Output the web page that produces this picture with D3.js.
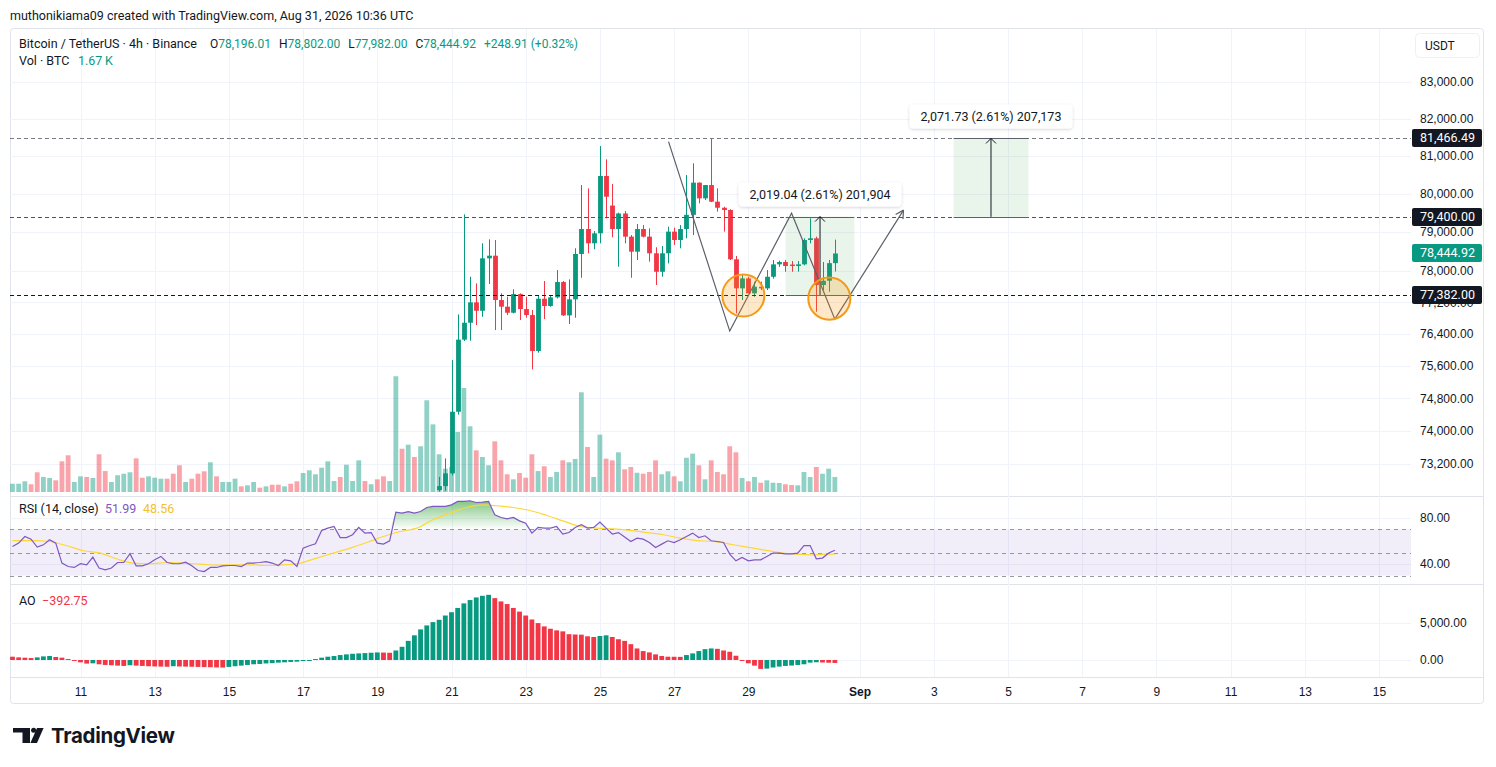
<!DOCTYPE html>
<html>
<head>
<meta charset="utf-8">
<title>Bitcoin / TetherUS 4h</title>
<script src="https://cdn.jsdelivr.net/npm/d3@7"></script>
<style>
  body { margin: 0; background: #fff; }
  svg { display: block; font-family: Roboto, "Noto Sans", sans-serif; }
  .axis text { fill: #131722; font-size: 12px; }
</style>
</head>
<body>
<svg id="chart" width="1496" height="767"></svg>
<script>
'use strict';

/* bars are 4h, first one is Aug 9 04:00 UTC */
var firstBar = Date.UTC(2026, 7, 9, 4);
var barMs = 4 * 3600 * 1000;

/* volume in thousand BTC, every bar */
var volumes = [0.92, 0.92, 1.19, 0.86, 2.19, 1.67, 1.56, 1.30, 3.41, 4.08,
    1.11, 1.74, 1.67, 1.56, 4.19, 2.33, 1.11, 1.86, 2.03, 2.19,
    3.74, 1.59, 1.74, 1.59, 1.48, 1.48, 2.03, 2.97, 1.11, 1.48,
    2.03, 2.30, 3.30, 1.74, 1.11, 1.11, 1.48, 0.63, 0.74, 1.11,
    0.48, 0.63, 0.81, 0.81, 0.63, 0.92, 1.19, 2.11, 2.41, 1.97,
    2.70, 3.41, 1.22, 1.67, 3.03, 1.22, 3.52, 1.22, 0.86, 1.41,
    1.74, 1.22, 12.86, 4.81, 5.26, 3.89, 5.08, 10.19, 7.52, 4.19,
    2.59, 2.78, 6.67, 11.56, 7.30, 4.63, 3.89, 2.97, 5.63, 3.52,
    1.97, 1.41, 2.11, 1.59, 4.19, 2.33, 2.86, 1.67, 2.22, 3.52,
    3.30, 3.67, 11.08, 5.00, 1.67, 6.37, 3.70, 3.52, 4.41, 2.52,
    2.78, 2.14, 2.03, 2.22, 3.52, 1.97, 2.30, 1.74, 1.19, 3.81,
    4.26, 2.97, 1.41, 3.52, 2.22, 1.97, 5.08, 4.41, 1.56, 1.19,
    1.67, 1.03, 1.30, 1.03, 1.00, 0.86, 0.78, 0.74, 2.22, 1.67,
    2.78, 2.03, 2.59, 1.67];

/* up (1) / down (0) for the bars whose candles sit below the visible price range */
var earlyUp = [1, 1, 1, 0, 0, 1, 1, 0, 0, 0,
    1, 1, 0, 1, 0, 0, 1, 1, 1, 1,
    0, 0, 1, 1, 1, 0, 0, 0, 1, 0,
    0, 0, 1, 0, 1, 1, 1, 0, 1, 1,
    0, 1, 0, 0, 1, 0, 0, 1, 1, 1,
    1, 1, 1, 0, 1, 1, 1, 0, 1, 0,
    0, 1, 1, 0, 1, 0, 1, 1, 1];

/* OHLC from bar 69 on */
var candleStart = 69;
var opens = [72578, 72673, 72977, 74470, 76255, 76680, 77195, 76982, 78320, 78388,
    77254, 77085, 76932, 77405, 77025, 76874, 75970, 77287, 77102, 77322,
    77712, 76866, 77272, 78432, 79078, 78708, 78966, 80468, 79690, 79078,
    79483, 78880, 78491, 79078, 78880, 78450, 77975, 78450, 79010, 78793,
    79078, 79447, 80292, 79879, 80229, 79791, 79633, 79574, 78295, 77551,
    77805, 77424, 77593, 77551, 77847, 78165, 78225, 78160, 78122, 78165,
    78793, 78837, 77636, 77745, 78196.01];
var highs = [72895, 73338, 75746, 76890, 79460, 77847, 77678, 78708, 78811, 78793,
    77424, 77339, 77526, 77424, 77339, 77000, 77375, 77738, 77375, 78019,
    77740, 77781, 78579, 80229, 80142, 79026, 81263, 80910, 80256, 79504,
    79548, 78922, 79208, 79182, 79095, 78605, 78638, 79139, 79113, 79182,
    80495, 80803, 80300, 80229, 81466.49, 80142, 79660, 79592, 78380, 77891,
    77847, 77720, 77720, 78019, 78277, 78260, 78277, 78250, 78250, 78837,
    79356, 78880, 78225, 78277, 78802];
var lows = [72540, 72560, 72930, 74400, 76220, 76228, 76622, 76830, 77660, 76496,
    76496, 76874, 76916, 76748, 76806, 75515, 75928, 76773, 77085, 77297,
    76849, 76647, 76806, 77822, 78450, 78553, 78708, 79356, 78863, 78104,
    78708, 77822, 78277, 78860, 78233, 77636, 77847, 78190, 78664, 78579,
    78837, 78922, 79748, 79835, 79780, 79530, 79010, 78277, 76916, 77254,
    77424, 77339, 77508, 77508, 77800, 78100, 77975, 77975, 77975, 78140,
    78708, 76957, 77508, 77466, 77982];
var closes = [72673, 72977, 74470, 76255, 76680, 77195, 76982, 78320, 78388, 77254,
    77085, 76932, 77405, 77025, 76874, 75970, 77287, 77102, 77322, 77712,
    76866, 77272, 78432, 79078, 78708, 78966, 80468, 79922, 79078, 79483,
    78880, 78491, 79078, 78880, 78450, 77975, 78450, 79010, 78793, 79078,
    79447, 80292, 79879, 80229, 79791, 79633, 79574, 78295, 77551, 77805,
    77424, 77593, 77551, 77847, 78165, 78225, 78122, 78122, 78165, 78793,
    78837, 77636, 77745, 78196.01, 78444.92];

/* RSI(14) every bar, and its moving average read at a few bars */
var rsiValues = [55.2, 58.1, 63.8, 61.5, 54.7, 56.6, 61.0, 58.1, 40.9, 37.9,
    37.1, 40.3, 39.4, 46.0, 36.6, 35.1, 36.6, 41.4, 41.4, 48.9,
    38.5, 38.5, 40.3, 43.7, 46.6, 41.4, 40.3, 40.3, 41.7, 38.5,
    34.5, 33.6, 37.1, 37.1, 38.5, 38.8, 38.8, 37.9, 40.9, 40.9,
    41.4, 42.2, 40.9, 38.8, 43.7, 42.8, 37.9, 53.8, 55.8, 57.5,
    69.0, 71.0, 72.4, 62.9, 62.9, 65.3, 71.6, 66.7, 67.2, 58.1,
    57.2, 60.1, 84.8, 84.0, 85.3, 84.0, 85.3, 88.8, 89.7, 89.7,
    89.7, 91.1, 94.0, 94.0, 94.6, 93.1, 93.4, 94.0, 82.5, 80.2,
    79.0, 80.2, 77.3, 75.3, 66.7, 71.6, 71.0, 71.0, 72.4, 65.9,
    67.2, 71.6, 73.9, 71.0, 71.6, 76.2, 71.0, 65.9, 67.2, 63.3,
    59.5, 62.4, 61.5, 58.6, 54.3, 57.2, 60.1, 58.6, 61.0, 63.8,
    66.7, 62.9, 64.4, 60.1, 59.5, 58.6, 48.6, 42.8, 45.7, 42.8,
    43.7, 43.7, 46.6, 49.5, 49.5, 48.9, 48.9, 49.5, 56.0, 56.0,
    44.6, 45.2, 49.5, 51.99];
var rsiMaBars = [0, 3.4, 6, 8.8, 11.5, 14.2, 16.8, 19.5, 22.2, 25, 27.6, 30.3, 33, 35.7, 38.4, 41, 43.8, 46,
    49.2, 51.9, 54.6, 57.3, 60, 62.7, 65.4, 68, 70.8, 73.4, 76, 78.3, 81, 83.7, 86.4, 89, 91.8, 94.5,
    97.2, 99.9, 102.6, 105.3, 108, 110.7, 113.4, 116, 118.8, 121.4, 124, 126.8, 129.5, 132.2, 133];
var rsiMaValues = [60.3, 60.3, 59.5, 55.8, 51.5, 49.5, 44.6, 40.9, 40.3, 41.4, 40.9, 40.0, 39.1, 39.4, 39.4, 38.8, 39.4, 40.3,
    45.2, 49.5, 53.8, 58.6, 63.8, 68.1, 71.0, 78.2, 84.0, 88.8, 91.0, 90.3, 88.8, 86.2, 81.9, 77.3, 72.4, 71.0,
    70.4, 69.0, 67.2, 65.3, 62.4, 60.3, 59.5, 57.2, 54.7, 52.3, 50.0, 48.6, 48.0, 48.6, 48.56];

/* Awesome Oscillator every bar */
var aoValues = [440, 350, 310, 260, 350, 480, 530, 400, 310, 130,
    -130, -310, -480, -440, -570, -660, -700, -750, -790, -700,
    -750, -790, -830, -860, -880, -900, -830, -860, -880, -900,
    -920, -945, -965, -990, -1010, -920, -830, -750, -660, -570,
    -530, -460, -420, -350, -310, -260, -220, -130, -45, 130,
    310, 440, 530, 660, 750, 830, 880, 920, 970, 1010,
    990, 965, 1270, 1760, 2550, 3290, 4080, 4610, 5050, 5360,
    5930, 6370, 6940, 7550, 7990, 8340, 8560, 8690, 8250, 7810,
    7460, 6940, 6450, 5930, 5400, 4920, 4480, 4170, 3950, 3820,
    3440, 3400, 3380, 3160, 3070, 3200, 3290, 3070, 2770, 2550,
    2110, 1540, 1190, 1010, 750, 530, 440, 430, 420, 660,
    880, 1190, 1450, 1540, 1490, 1270, 1100, 570, -90, -440,
    -750, -1190, -1150, -1000, -880, -790, -740, -660, -570, -350,
    -300, -330, -360, -392.75];

var priceTicks = [83000, 82000, 81000, 80000, 79000, 78000, 77200, 76400, 75600, 74800, 74000, 73200];
var rsiTicks = [80, 40];
var rsiLevels = [70, 50, 30];
var aoTicks = [5000, 0];
var dayTicks = ['2026-08-11', '2026-08-13', '2026-08-15', '2026-08-17', '2026-08-19', '2026-08-21',
    '2026-08-23', '2026-08-25', '2026-08-27', '2026-08-29', '2026-09-01', '2026-09-03', '2026-09-05',
    '2026-09-07', '2026-09-09', '2026-09-11', '2026-09-13', '2026-09-15'];

/* drawings: bars are (fractional) bar numbers, prices in USDT */
var levelPrices = [81466.49, 79400, 77382];
var zigBars = [106.1, 116, 126, 133, 144.1];
var zigPrices = [81380, 76470, 79490, 76770, 79570];
var circleBars = [118.2, 132.1];
var circlePrices = [77370, 77290];
var circleEdgeBars = [121.6, 135.5];
var measureStartBars = [125.05, 152.2];
var measureEndBars = [136.15, 164.3];
var measureLows = [77382, 79394.76];
var measureHighs = [79401.04, 81466.49];

var UP = '#089981', DOWN = '#f23645', TEXT = '#131722';
var plotLeft = 10, plotRight = 1411, frameRight = 1483;
var pricePane = {top: 29, bottom: 496};
var rsiPane = {top: 497, bottom: 584};
var aoPane = {top: 585, bottom: 677};

function barTime(i) {
    return new Date(firstBar + i * barMs);
}

var x = d3.scaleUtc()
    .domain([new Date(Date.UTC(2026, 7, 11)), new Date(Date.UTC(2026, 8, 15))])
    .range([80.5, 1379]);
var bx = function(i) { return x(barTime(i)); };
var barW = (bx(1) - bx(0)) * 0.78;

var yPrice = d3.scaleLog().domain([74000, 83000]).range([431, 81.7]);
var yVol = d3.scaleLinear().domain([0, 13]).range([492, 375]);
var yRsi = d3.scaleLinear().domain([30, 70]).range([575.7, 529.3]);
var yAo = d3.scaleLinear().domain([0, 5000]).range([660, 622.5]);

var candles = opens.map(function(o, j) {
    return {i: candleStart + j, o: o, h: highs[j], l: lows[j], c: closes[j]};
});
function isUp(i) {
    if (i < candleStart) return earlyUp[i] === 1;
    return closes[i - candleStart] >= opens[i - candleStart];
}

var svg = d3.select('#chart');
var defs = svg.append('defs');

function addClip(id, top, bottom) {
    defs.append('clipPath').attr('id', id).append('rect')
        .attr('x', plotLeft).attr('y', top)
        .attr('width', plotRight - plotLeft).attr('height', bottom - top);
}
addClip('clipPrice', pricePane.top, pricePane.bottom);
addClip('clipRsi', rsiPane.top, rsiPane.bottom);
addClip('clipAo', aoPane.top, aoPane.bottom);

var grad = defs.append('linearGradient')
    .attr('id', 'obFill')
    .attr('gradientUnits', 'userSpaceOnUse')
    .attr('x1', 0).attr('x2', 0)
    .attr('y1', yRsi(100)).attr('y2', yRsi(70));
grad.append('stop').attr('offset', '0%').attr('stop-color', '#4caf50').attr('stop-opacity', 0.85);
grad.append('stop').attr('offset', '100%').attr('stop-color', '#4caf50').attr('stop-opacity', 0);

var shadow = defs.append('filter').attr('id', 'shadow')
    .attr('x', '-20%').attr('y', '-50%').attr('width', '140%').attr('height', '200%');
shadow.append('feDropShadow').attr('dx', 0).attr('dy', 1).attr('stdDeviation', 1.6)
    .attr('flood-color', '#000').attr('flood-opacity', 0.18);

svg.append('rect').attr('width', 1496).attr('height', 767).attr('fill', '#fff');

/* frame and pane borders */
svg.append('rect')
    .attr('x', 10.5).attr('y', 28.5).attr('width', frameRight - 10).attr('height', 675)
    .attr('rx', 3).attr('fill', 'none').attr('stroke', '#e0e3eb');
svg.selectAll('line.sep')
    .data([pricePane.bottom, rsiPane.bottom, aoPane.bottom])
    .enter()
    .append('line')
    .attr('x1', 10).attr('x2', frameRight)
    .attr('y1', function(d) { return d + 0.5; })
    .attr('y2', function(d) { return d + 0.5; })
    .attr('stroke', '#e0e3eb');

/* grid */
var grid = svg.append('g').attr('stroke', '#f0f3fa');
grid.selectAll('line.v')
    .data(dayTicks)
    .enter()
    .append('line')
    .attr('x1', function(d) { return Math.round(x(new Date(d))) + 0.5; })
    .attr('x2', function(d) { return Math.round(x(new Date(d))) + 0.5; })
    .attr('y1', pricePane.top)
    .attr('y2', aoPane.bottom);
function hGrid(ticks, scale) {
    grid.append('g').selectAll('line')
        .data(ticks)
        .enter()
        .append('line')
        .attr('x1', plotLeft).attr('x2', plotRight)
        .attr('y1', function(d) { return Math.round(scale(d)) + 0.5; })
        .attr('y2', function(d) { return Math.round(scale(d)) + 0.5; });
}
hGrid(priceTicks, yPrice);
hGrid(rsiTicks, yRsi);
hGrid(aoTicks, yAo);

/* PRICE PANE */
var price = svg.append('g').attr('clip-path', 'url(#clipPrice)');

price.selectAll('rect.vol')
    .data(volumes)
    .enter()
    .append('rect')
    .attr('x', function(d, i) { return bx(i) - barW / 2; })
    .attr('y', function(d) { return yVol(d); })
    .attr('width', barW)
    .attr('height', function(d) { return yVol(0) - yVol(d); })
    .attr('fill', function(d, i) {
        return isUp(i) ? 'rgba(8,153,129,0.45)' : 'rgba(242,54,69,0.45)';
    });

var candle = price.selectAll('g.candle')
    .data(candles)
    .enter()
    .append('g')
    .attr('fill', function(d) { return d.c >= d.o ? UP : DOWN; })
    .attr('stroke', function(d) { return d.c >= d.o ? UP : DOWN; });
candle.append('line')
    .attr('x1', function(d) { return Math.round(bx(d.i)) + 0.5; })
    .attr('x2', function(d) { return Math.round(bx(d.i)) + 0.5; })
    .attr('y1', function(d) { return yPrice(d.h); })
    .attr('y2', function(d) { return yPrice(d.l); });
candle.append('rect')
    .attr('stroke', 'none')
    .attr('x', function(d) { return Math.round(bx(d.i)) + 0.5 - barW / 2; })
    .attr('y', function(d) { return yPrice(Math.max(d.o, d.c)); })
    .attr('width', barW)
    .attr('height', function(d) {
        return Math.max(1, yPrice(Math.min(d.o, d.c)) - yPrice(Math.max(d.o, d.c)));
    });

/* horizontal levels */
var levelColors = ['#787b86', '#50535e', TEXT];
price.selectAll('line.level')
    .data(levelPrices)
    .enter()
    .append('line')
    .attr('x1', plotLeft).attr('x2', plotRight)
    .attr('y1', function(d) { return Math.round(yPrice(d)) + 0.5; })
    .attr('y2', function(d) { return Math.round(yPrice(d)) + 0.5; })
    .attr('stroke', function(d, i) { return levelColors[i]; })
    .attr('stroke-dasharray', '4,3');

/* price range boxes */
var measures = measureStartBars.map(function(b, i) {
    return {b0: b, b1: measureEndBars[i], lo: measureLows[i], hi: measureHighs[i]};
});
var mg = price.selectAll('g.measure')
    .data(measures)
    .enter()
    .append('g');
mg.append('rect')
    .attr('x', function(d) { return bx(d.b0); })
    .attr('y', function(d) { return yPrice(d.hi); })
    .attr('width', function(d) { return bx(d.b1) - bx(d.b0); })
    .attr('height', function(d) { return yPrice(d.lo) - yPrice(d.hi); })
    .attr('fill', 'rgba(76,175,80,0.12)');
['hi', 'lo'].forEach(function(k) {
    mg.append('line')
        .attr('x1', function(d) { return bx(d.b0); })
        .attr('x2', function(d) { return bx(d.b1); })
        .attr('y1', function(d) { return Math.round(yPrice(d[k])) + 0.5; })
        .attr('y2', function(d) { return Math.round(yPrice(d[k])) + 0.5; })
        .attr('stroke', '#5d606b');
});
mg.append('line')
    .attr('x1', function(d) { return bx((d.b0 + d.b1) / 2); })
    .attr('x2', function(d) { return bx((d.b0 + d.b1) / 2); })
    .attr('y1', function(d) { return yPrice(d.lo); })
    .attr('y2', function(d) { return yPrice(d.hi); })
    .attr('stroke', TEXT);
mg.append('path')
    .attr('d', function(d) {
        var ax = bx((d.b0 + d.b1) / 2), ay = yPrice(d.hi);
        return 'M' + (ax - 5) + ',' + (ay + 5) + 'L' + ax + ',' + ay + 'L' + (ax + 5) + ',' + (ay + 5);
    })
    .attr('fill', 'none')
    .attr('stroke', TEXT);

/* zigzag pattern */
var zigPts = zigBars.map(function(b, i) { return [bx(b), yPrice(zigPrices[i])]; });
price.append('path')
    .attr('d', d3.line()(zigPts))
    .attr('fill', 'none')
    .attr('stroke', '#5d606b')
    .attr('stroke-width', 1.2);
var pEnd = zigPts[zigPts.length - 1], pPrev = zigPts[zigPts.length - 2];
var ang = Math.atan2(pEnd[1] - pPrev[1], pEnd[0] - pPrev[0]);
price.append('path')
    .attr('d', [-0.5, 0.5].map(function(s) {
        return 'M' + pEnd[0] + ',' + pEnd[1] + 'L' +
            (pEnd[0] - 9 * Math.cos(ang + s)) + ',' + (pEnd[1] - 9 * Math.sin(ang + s));
    }).join(''))
    .attr('fill', 'none')
    .attr('stroke', '#5d606b')
    .attr('stroke-width', 1.2);

/* circles */
price.selectAll('circle.mark')
    .data(circleBars)
    .enter()
    .append('circle')
    .attr('cx', function(d) { return bx(d); })
    .attr('cy', function(d, i) { return yPrice(circlePrices[i]); })
    .attr('r', function(d, i) { return bx(circleEdgeBars[i]) - bx(d); })
    .attr('fill', 'rgba(255,152,0,0.22)')
    .attr('stroke', '#f59a16')
    .attr('stroke-width', 2);

/* measure labels */
var fmt2 = d3.format(',.2f');
var lg = svg.selectAll('g.mlabel')
    .data(measures)
    .enter()
    .append('g');
lg.each(function(d) {
    var g = d3.select(this);
    var diff = d.hi - d.lo;
    var str = fmt2(diff) + ' (' + (diff / d.lo * 100).toFixed(2) + '%) ' + d3.format(',')(Math.round(diff * 100));
    var cx = bx((d.b0 + d.b1) / 2);
    var bottom = yPrice(d.hi) - 10;
    var rect = g.append('rect').attr('fill', '#fff').attr('rx', 4).attr('filter', 'url(#shadow)');
    var t = g.append('text')
        .attr('x', cx).attr('y', bottom - 12)
        .attr('dy', '0.35em')
        .attr('text-anchor', 'middle')
        .attr('font-size', 12.5)
        .attr('fill', TEXT)
        .text(str);
    var w = t.node().getComputedTextLength() + 22;
    rect.attr('x', cx - w / 2).attr('y', bottom - 24).attr('width', w).attr('height', 24);
});

/* RSI PANE */
var rsi = svg.append('g').attr('clip-path', 'url(#clipRsi)');
rsi.append('rect')
    .attr('x', plotLeft).attr('width', plotRight - plotLeft)
    .attr('y', yRsi(70)).attr('height', yRsi(30) - yRsi(70))
    .attr('fill', 'rgba(126,87,194,0.1)');
rsi.selectAll('line.band')
    .data(rsiLevels)
    .enter()
    .append('line')
    .attr('x1', plotLeft).attr('x2', plotRight)
    .attr('y1', function(d) { return Math.round(yRsi(d)) + 0.5; })
    .attr('y2', function(d) { return Math.round(yRsi(d)) + 0.5; })
    .attr('stroke', '#9598a1')
    .attr('stroke-dasharray', '4,4');
rsi.append('path')
    .datum(rsiValues)
    .attr('d', d3.area()
        .x(function(d, i) { return bx(i); })
        .y0(yRsi(70))
        .y1(function(d) { return yRsi(Math.max(d, 70)); }))
    .attr('fill', 'url(#obFill)');
rsi.append('path')
    .datum(rsiMaBars.map(function(b, i) { return [b, rsiMaValues[i]]; }))
    .attr('d', d3.line()
        .x(function(d) { return bx(d[0]); })
        .y(function(d) { return yRsi(d[1]); })
        .curve(d3.curveMonotoneX))
    .attr('fill', 'none')
    .attr('stroke', '#fdd835')
    .attr('stroke-width', 1.2);
rsi.append('path')
    .datum(rsiValues)
    .attr('d', d3.line()
        .x(function(d, i) { return bx(i); })
        .y(function(d) { return yRsi(d); }))
    .attr('fill', 'none')
    .attr('stroke', '#7e57c2')
    .attr('stroke-width', 1.2);

/* AO PANE */
var ao = svg.append('g').attr('clip-path', 'url(#clipAo)');
ao.selectAll('rect')
    .data(aoValues)
    .enter()
    .append('rect')
    .attr('x', function(d, i) { return bx(i) - barW / 2; })
    .attr('y', function(d) { return Math.min(yAo(d), yAo(0)); })
    .attr('width', barW)
    .attr('height', function(d) { return Math.max(1, Math.abs(yAo(d) - yAo(0))); })
    .attr('fill', function(d, i) { return i > 0 && d >= aoValues[i - 1] ? UP : DOWN; });

/* AXES */
function rightAxis(scale, ticks) {
    svg.append('g')
        .attr('class', 'axis')
        .attr('transform', 'translate(' + plotRight + ',0)')
        .call(d3.axisRight(scale).tickValues(ticks).tickSize(0).tickPadding(9).tickFormat(fmt2))
        .call(function(g) { g.select('.domain').remove(); });
}
rightAxis(yPrice, priceTicks);
rightAxis(yRsi, rsiTicks);
rightAxis(yAo, aoTicks);

var dayFmt = function(d) {
    return d.getUTCDate() === 1 ? d3.utcFormat('%b')(d) : d3.utcFormat('%-d')(d);
};
svg.append('g')
    .attr('class', 'axis')
    .attr('transform', 'translate(0,' + aoPane.bottom + ')')
    .call(d3.axisBottom(x).tickValues(dayTicks.map(function(d) { return new Date(d); }))
        .tickSize(0).tickPadding(10).tickFormat(dayFmt))
    .call(function(g) {
        g.select('.domain').remove();
        g.selectAll('text').attr('font-weight', function(d) {
            return d.getUTCDate() === 1 ? 700 : 400;
        });
    });

/* price scale labels for levels and last price */
var tags = levelPrices.map(function(p) { return {p: p, fill: TEXT}; });
tags.push({p: closes[closes.length - 1], fill: UP});
var tag = svg.selectAll('g.tag')
    .data(tags)
    .enter()
    .append('g')
    .attr('transform', function(d) { return 'translate(0,' + Math.round(yPrice(d.p)) + ')'; });
tag.append('rect')
    .attr('x', 1412).attr('y', -9).attr('width', 70).attr('height', 18)
    .attr('rx', 2)
    .attr('fill', function(d) { return d.fill; });
tag.append('text')
    .attr('x', 1420).attr('dy', '0.35em')
    .attr('font-size', 12.5)
    .attr('fill', '#fff')
    .text(function(d) { return fmt2(d.p); });

svg.append('rect')
    .attr('x', 1415.5).attr('y', 33.5).attr('width', 64).attr('height', 24).attr('rx', 4)
    .attr('fill', '#fff').attr('stroke', '#eef0f4');
svg.append('text')
    .attr('x', 1425).attr('y', 45.5).attr('dy', '0.35em')
    .attr('font-size', 12).attr('fill', TEXT)
    .text('USDT');

/* LEGENDS */
function label(xp, yp, str, color, size, weight) {
    return svg.append('text')
        .attr('x', xp).attr('y', yp).attr('dy', '0.35em')
        .attr('font-size', size || 12.5)
        .attr('font-weight', weight || 400)
        .attr('fill', color || TEXT)
        .text(str);
}
label(10, 16, 'muthonikiama09 created with TradingView.com, Aug 31, 2026 10:36 UTC', TEXT, 12.5);

var last = candles[candles.length - 1];
var prevClose = closes[closes.length - 2];
var chg = last.c - prevClose;
label(19, 44, 'Bitcoin / TetherUS \u00b7 4h \u00b7 Binance');
var ohlc = label(210, 44, '', TEXT, 12);
[['O', last.o], ['H', last.h], ['L', last.l], ['C', last.c]].forEach(function(p, k) {
    ohlc.append('tspan').attr('dx', k ? 8 : 0).text(p[0]);
    ohlc.append('tspan').attr('fill', UP).text(fmt2(p[1]));
});
ohlc.append('tspan')
    .attr('dx', 8)
    .attr('fill', UP)
    .text('+' + fmt2(chg) + ' (+' + (chg / prevClose * 100).toFixed(2) + '%)');
label(19, 61, 'Vol \u00b7 BTC');
label(78, 61, volumes[volumes.length - 1].toFixed(2) + '\u2009K', UP);

label(19, 509, 'RSI (14, close)');
label(105, 509, rsiValues[rsiValues.length - 1].toFixed(2), '#7e57c2');
label(143, 509, rsiMaValues[rsiMaValues.length - 1].toFixed(2), '#f2c12e');

label(19, 601, 'AO');
label(42, 601, '\u2212' + Math.abs(aoValues[aoValues.length - 1]).toFixed(2), DOWN);

/* TradingView logo */
var logo = svg.append('g').attr('fill', TEXT);
logo.append('path').attr('d', 'M13,728H30V743H22.5V732.5H13Z');
logo.append('circle').attr('cx', 33.6).attr('cy', 730.3).attr('r', 2.5);
logo.append('path').attr('d', 'M37,728H43.6L37,743H30.4Z');
svg.append('text')
    .attr('x', 51).attr('y', 742.5)
    .attr('font-family', 'Inter, Roboto, sans-serif')
    .attr('font-size', 20.5)
    .attr('font-weight', 700)
    .attr('letter-spacing', -0.3)
    .attr('fill', TEXT)
    .text('TradingView');
</script>
</body>
</html>
